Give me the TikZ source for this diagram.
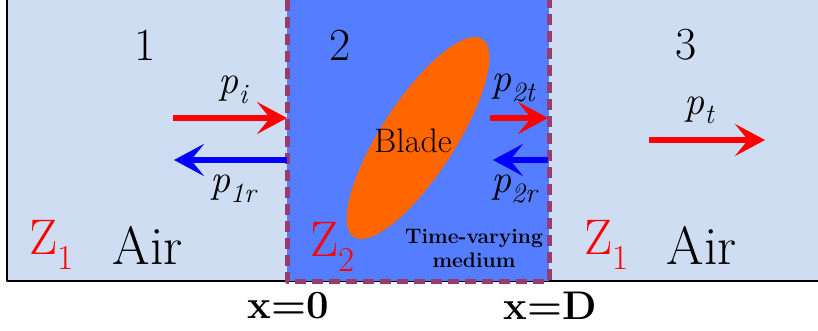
\documentclass[tikz,border=0pt]{standalone}
\usepackage{fontspec}
\usetikzlibrary{arrows.meta}
\definecolor{airblue}{RGB}{207,221,242}
\definecolor{midblue}{RGB}{84,126,255}
\definecolor{bladeorange}{RGB}{255,102,0}
\definecolor{bordpurple}{RGB}{150,60,110}
\newcommand{\fs}[1]{\fontsize{#1}{#1}\selectfont}
\newcommand{\wave}[1]{\textit{p}\textsubscript{\textit{#1}}}
\tikzset{
  wavearrow/.style={line width=6pt, -{Stealth[length=30pt,width=32pt,inset=13pt]}},
  txt/.style={inner sep=0pt, font=\fs{34}},
  wavetxt/.style={inner sep=0pt, font=\fs{40}},
}
\begin{document}
\begin{tikzpicture}[x=1pt, y=-1pt, line join=round]
			\useasboundingbox (0,0) rectangle (818,331);
			% media
			\fill[airblue] (7,0) rectangle (818,281);
			\draw[line width=1.5pt] (7,0)--(7,281)--(818,281);
			\fill[midblue] (287,0) rectangle (549,281);
			\draw[bordpurple, line width=5pt, dash pattern=on 11pt off 6pt] (287,0)--(287,281)--(549,281)--(549,0);
			\fill[bladeorange, rotate around={57:(418,138)}] (418,138) ellipse (118pt and 37pt);
			% region numbers
			\node[txt, font=\fs{46}] (n1) at (145,45) {1};
			\node[txt, font=\fs{46}] (n2) at (340,45) {2};
			\node[txt, font=\fs{46}] (n3) at (686,45) {3};
			% interfaces
			\coordinate (L1) at (287,118);
			\coordinate (L2) at (287,160);
			\coordinate (R1) at (548,118);
			\coordinate (R2) at (548,160);
			\coordinate (pis) at (173,118);
			\coordinate (prs) at (174,160);
			\coordinate (pts) at (490,118);
			\coordinate (p2e) at (493,160);
			\coordinate (tas) at (649,140);
			\coordinate (tae) at (765,140);
			% waves
			\draw[wavearrow, red] (pis)--(L1);
			\draw[wavearrow, blue] (L2)--(prs);
			\draw[wavearrow, red] (pts)--(R1);
			\draw[wavearrow, blue] (R2)--(p2e);
			\draw[wavearrow, red] (tas)--(tae);
			\node[wavetxt] (pi) at (234,90) {\wave{i}};
			\node[wavetxt] (p1r) at (234,189) {\wave{1r}};
			\node[wavetxt] (p2t) at (514,88) {\wave{2t}};
			\node[wavetxt] (p2r) at (515,189) {\wave{2r}};
			\node[wavetxt] (pt) at (700,110) {\wave{t}};
			\node[txt, font=\fs{34}] (blade) at (413,141) {Blade};
			\node[txt, font=\bfseries\fs{21}, align=center] (tv) at (474,248) {Time-varying\\[3pt]medium};
			% impedances
			\node[txt, red, font=\fs{50}] (z1a) at (52,245) {Z\textsubscript{1}};
			\node[txt, font=\fs{54}] (aira) at (148,245) {Air};
			\node[txt, red, font=\fs{50}] (z2) at (333,247) {Z\textsubscript{2}};
			\node[txt, red, font=\fs{50}] (z1b) at (607,245) {Z\textsubscript{1}};
			\node[txt, font=\fs{54}] (airb) at (702,245) {Air};
			% positions
			\node[txt, font=\bfseries\fs{40}] (x0) at (288,306) {x=0};
			\node[txt, font=\bfseries\fs{40}] (xd) at (550,306) {x=D};
	\end{tikzpicture}
\end{document}
